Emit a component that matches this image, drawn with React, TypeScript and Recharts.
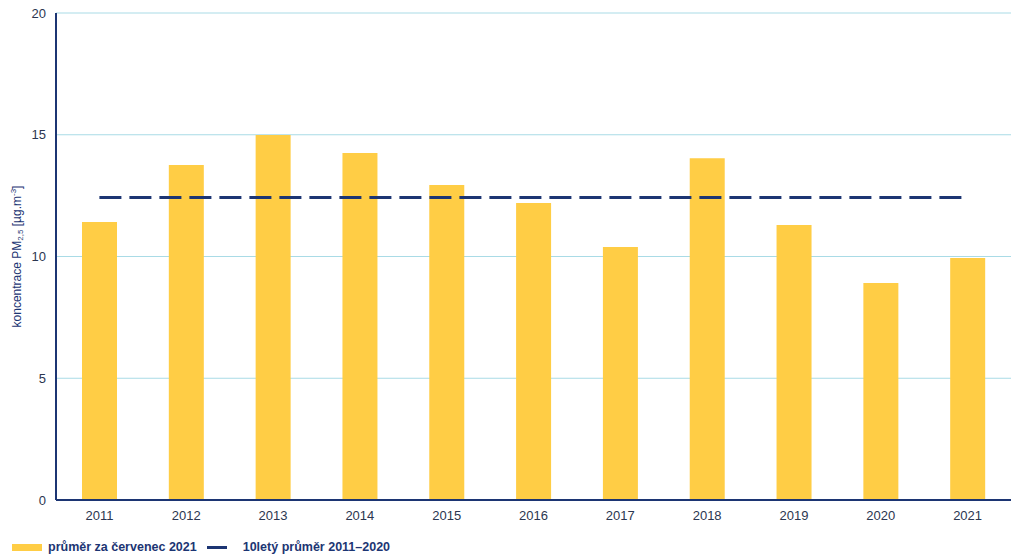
import React from 'react';
import { ComposedChart, Bar, Line, XAxis, YAxis, CartesianGrid, Legend, Label } from 'recharts';

const years = ['2011', '2012', '2013', '2014', '2015', '2016', '2017', '2018', '2019', '2020', '2021'];
const julyMean = [11.42, 13.76, 14.99, 14.25, 12.94, 12.2, 10.39, 14.04, 11.29, 8.91, 9.94];
const tenYearMean = [12.42, 12.42, 12.42, 12.42, 12.42, 12.42, 12.42, 12.42, 12.42, 12.42, 12.42];
const yTicks = [0, 5, 10, 15, 20];

const NAVY = '#1c3573';
const YELLOW = '#ffcd45';
const FONT = '"Liberation Sans", Arial, sans-serif';

const data = years.map((y, i) => ({ year: y, july: julyMean[i], avg: tenYearMean[i] }));

function YLabel({ viewBox }: any) {
  const cx = 17;
  const cy = viewBox.y + viewBox.height / 2;
  return (
    <text
      x={cx}
      y={cy}
      transform={`rotate(-90, ${cx}, ${cy})`}
      textAnchor="middle"
      dominantBaseline="central"
      fill={NAVY}
      fontSize={12}
      fontFamily={FONT}
    >
      <tspan>koncentrace PM</tspan>
      <tspan fontSize={8} dy={3}>2,5</tspan>
      <tspan dy={-3}> [µg.m</tspan>
      <tspan fontSize={8} dy={-4}>-3</tspan>
      <tspan dy={4}>]</tspan>
    </text>
  );
}

function LegendContent() {
  return (
    <div style={{ display: 'flex', alignItems: 'center', fontFamily: FONT, fontSize: 12.5, fontWeight: 'bold', color: NAVY, height: 22, paddingTop: 6 }}>
      <span style={{ display: 'inline-block', width: 30, height: 7, background: YELLOW, marginLeft: 12, marginRight: 6 }} />
      <span>průměr za červenec 2021</span>
      <span style={{ display: 'inline-block', width: 20, height: 3, background: NAVY, marginLeft: 10, marginRight: 16 }} />
      <span>10letý průměr 2011–2020</span>
    </div>
  );
}

export default function App() {
  return (
    <div style={{ position: 'absolute', left: 0, top: 0, background: '#fff' }}>
      <ComposedChart width={1024} height={558} data={data} margin={{ top: 13, right: 13, left: 0, bottom: 0 }}>
        <CartesianGrid vertical={false} stroke="#a9dbe6" strokeWidth={1} />
        <XAxis
          dataKey="year"
          axisLine={{ stroke: NAVY, strokeWidth: 2 }}
          tickLine={false}
          tickMargin={5}
          height={30}
          tick={{ fill: '#2b3650', fontSize: 13, fontFamily: FONT }}
        />
        <YAxis
          domain={[0, 20]}
          ticks={yTicks}
          width={56}
          axisLine={{ stroke: NAVY, strokeWidth: 2 }}
          tickLine={false}
          tickMargin={4}
          tick={{ fill: '#2b3650', fontSize: 13, fontFamily: FONT }}
        >
          <Label content={<YLabel />} />
        </YAxis>
        <Bar dataKey="july" fill={YELLOW} barSize={35} isAnimationActive={false} />
        <Line
          dataKey="avg"
          stroke={NAVY}
          strokeWidth={3}
          strokeDasharray="22 8"
          dot={false}
          activeDot={false}
          isAnimationActive={false}
        />
        <Legend verticalAlign="bottom" height={28} content={<LegendContent />} wrapperStyle={{ left: 0, width: 1024 }} />
      </ComposedChart>
    </div>
  );
}
